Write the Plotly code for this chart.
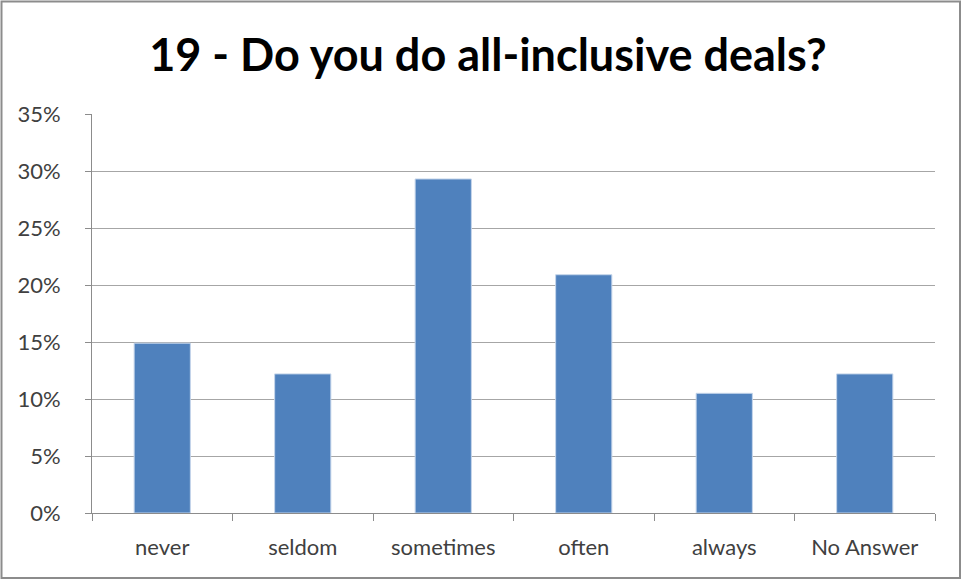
import plotly.graph_objects as go

categories = ["never", "seldom", "sometimes", "often", "always", "No Answer"]
values = [0.149, 0.122, 0.293, 0.209, 0.105, 0.122]
y_ticks = [0, 0.05, 0.10, 0.15, 0.20, 0.25, 0.30, 0.35]
title_text = "19 - Do you do all-inclusive deals?"

W, H = 963, 581
ml, mr, mt, mb = 92, 28, 114, 68
pw, ph = W - ml - mr, H - mt - mb

fig = go.Figure(go.Bar(
    x=categories, y=values,
    marker=dict(color="#4f81bd", line=dict(color="#c5d5ea", width=1)),
    width=0.4,
))

def px2x(p):
    return (p - ml) / pw

def py2y(p):
    return (H - mb - p) / ph

fig.add_shape(type="rect", xref="paper", yref="paper",
              x0=px2x(1.5), x1=px2x(960), y0=py2y(578), y1=py2y(1.5),
              line=dict(color="#8c8c8c", width=2), layer="below")

fig.update_layout(
    width=W, height=H,
    margin=dict(l=ml, r=mr, t=mt, b=mb),
    paper_bgcolor="white", plot_bgcolor="white",
    title=dict(text="<b>" + title_text + "</b>", x=488 / W, xref="container", xanchor="center",
               y=1 - 55 / H, yanchor="middle",
               font=dict(family="Lato", size=45, color="black")),
    showlegend=False,
    font=dict(family="Lato", color="#404040"),
)
fig.update_xaxes(
    type="category", tickson="boundaries", ticks="outside", ticklen=7,
    tickcolor="#8c8c8c", showline=True, linecolor="#8c8c8c", linewidth=1,
    showgrid=False, tickfont=dict(size=22, color="#404040"), ticklabelstandoff=15,
)
fig.update_yaxes(
    range=[0, 0.35], tickvals=y_ticks, tickformat=".0%", ticks="outside", ticklen=6,
    tickcolor="#8c8c8c", showline=True, linecolor="#8c8c8c", linewidth=1,
    showgrid=True, gridcolor="#a6a6a6", gridwidth=1, zeroline=False,
    tickfont=dict(size=22, color="#404040"), ticklabelstandoff=20,
)

fig.write_html("out.html", config={"displayModeBar": False},
               post_script="document.body.style.margin='0';document.body.style.overflow='hidden';")
